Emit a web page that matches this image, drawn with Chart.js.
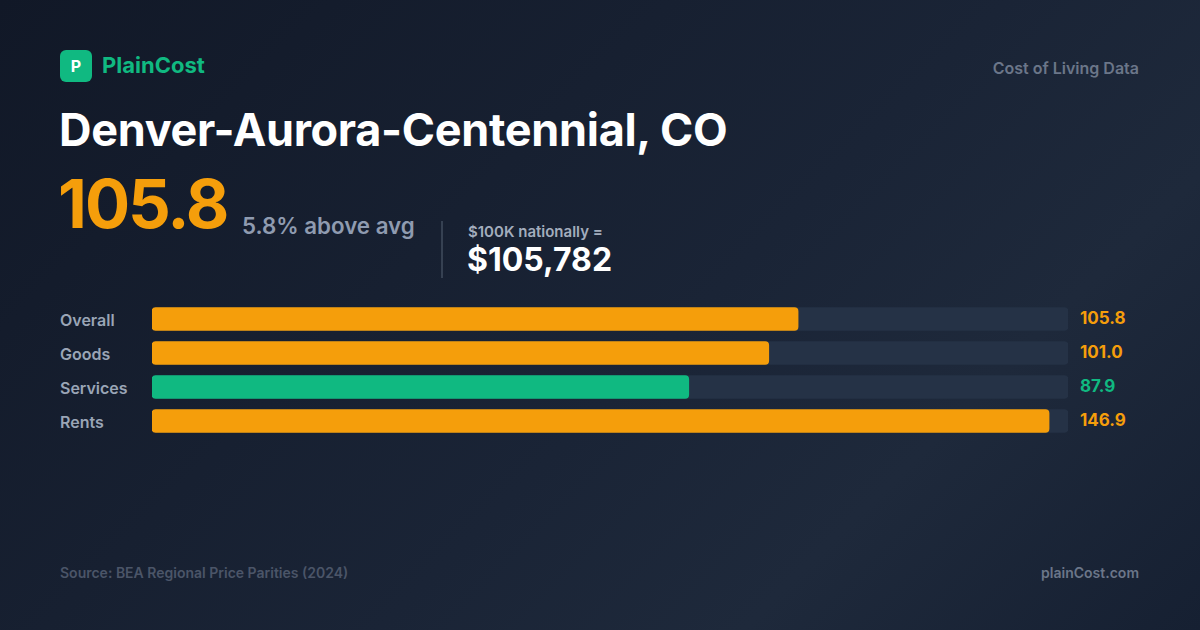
<!DOCTYPE html>
<html><head><meta charset="utf-8">
<script src="https://cdn.jsdelivr.net/npm/chart.js@4/dist/chart.umd.min.js"></script>
<style>
html,body{margin:0;padding:0}
body{width:1200px;height:630px;overflow:hidden;position:relative;font-family:Inter,"Noto Sans",sans-serif;
background:linear-gradient(135deg,#111827 0%,#1a2436 55%,#1e293b 75%,#162032 100%);color:#fff}
.abs{position:absolute;white-space:nowrap}
#logo{left:60px;top:50px;width:32px;height:32px;border-radius:6px;background:#10b981;color:#fff;font-weight:700;font-size:16px;text-align:center;line-height:32px}
#brand{left:102px;top:52px;font-size:22px;font-weight:700;color:#10b981}
#tag{right:61px;top:58px;font-size:16px;font-weight:600;color:#6b7689}
#title{left:59px;top:102px;font-size:45px;font-weight:700;letter-spacing:-0.3px}
#big{left:58px;top:163px;font-size:67px;font-weight:700;color:#f59e0b;letter-spacing:-2px}
#above{left:242px;top:212px;font-size:22.3px;font-weight:600;color:#8f9bb0}
#div{left:441px;top:221px;width:2px;height:57px;background:#364152}
#nat{left:468px;top:222px;font-size:15px;font-weight:600;color:#a3adbd}
#natv{left:467px;top:240px;font-size:32px;font-weight:700}
.lab{left:60px;font-size:16px;font-weight:600;color:#9aa5b6}
.val{left:1080px;font-size:17px;font-weight:700}
#src{left:60px;top:564px;font-size:14px;font-weight:600;color:#4b5568}
#site{right:61px;top:564px;font-size:14px;font-weight:600;color:#6b7689}
#wrap{position:absolute;left:152px;top:302px;width:916px;height:136px}
</style></head><body>
<div class="abs" id="logo">P</div>
<div class="abs" id="brand">PlainCost</div>
<div class="abs" id="tag">Cost of Living Data</div>
<div class="abs" id="title">Denver-Aurora-Centennial, CO</div>
<div class="abs" id="big">105.8</div>
<div class="abs" id="above">5.8% above avg</div>
<div class="abs" id="div"></div>
<div class="abs" id="nat">$100K nationally =</div>
<div class="abs" id="natv">$105,782</div>
<div id="wrap"><canvas id="c"></canvas></div>
<div class="abs" id="src">Source: BEA Regional Price Parities (2024)</div>
<div class="abs" id="site">plainCost.com</div>
<script>
const categories=["Overall","Goods","Services","Rents"];
const values=[105.8,101.0,87.9,146.9];
const colors=["#f59e0b","#f59e0b","#10b981","#f59e0b"];
const scaleMax=150;
categories.forEach((c,i)=>{
  const top=310+i*34;
  const l=document.createElement('div');l.className='abs lab';l.style.top=top+'px';l.textContent=c;document.body.appendChild(l);
  const v=document.createElement('div');v.className='abs val';v.style.top=(top-2)+'px';v.style.color=colors[i];v.textContent=values[i].toFixed(1);document.body.appendChild(v);
});
new Chart(document.getElementById('c'),{type:'bar',
data:{labels:categories,datasets:[
 {data:values,backgroundColor:colors,borderRadius:4,borderSkipped:false,barThickness:23,grouped:false,order:0},
 {data:categories.map(()=>scaleMax),backgroundColor:"#253246",borderRadius:4,borderSkipped:false,barThickness:23,grouped:false,order:1}
]},
options:{indexAxis:'y',responsive:true,maintainAspectRatio:false,animation:false,
layout:{padding:0},
plugins:{legend:{display:false},tooltip:{enabled:false}},
scales:{x:{display:false,min:0,max:scaleMax},y:{display:false}}}});
</script>
</body></html>
